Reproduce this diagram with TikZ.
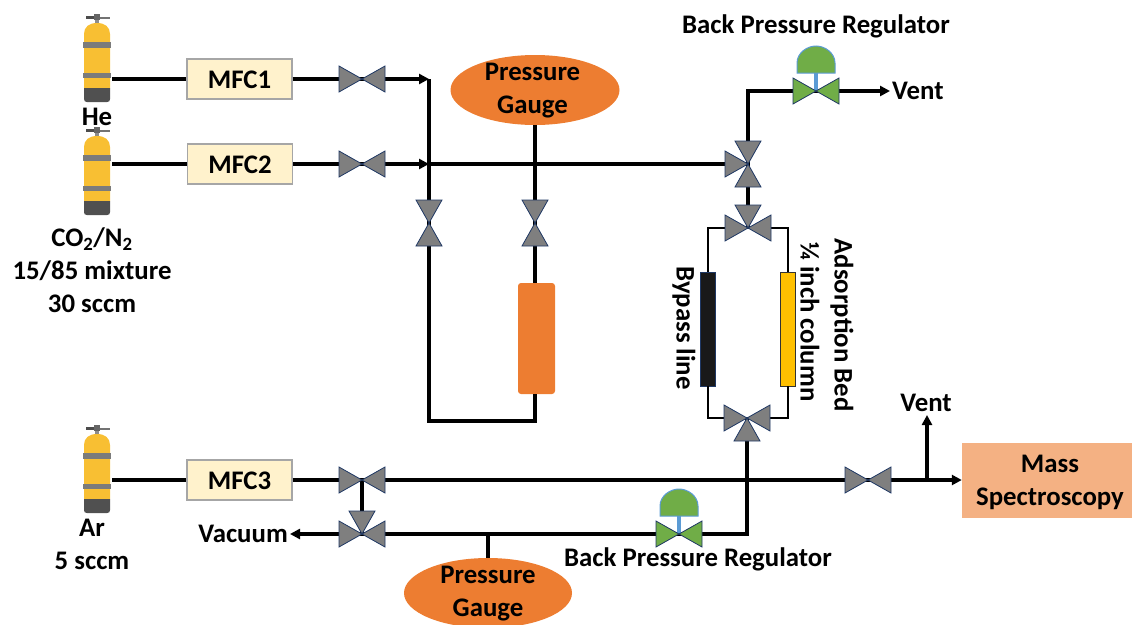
\documentclass[tikz,border=0pt]{standalone}
\usepackage{fontspec}
\setmainfont{Carlito}
\usetikzlibrary{arrows.meta,shapes.geometric}
\definecolor{valvegray}{HTML}{7F7F7F}
\definecolor{valveedge}{HTML}{1F3864}
\definecolor{greenv}{HTML}{70AD47}
\definecolor{bluev}{HTML}{5B9BD5}
\definecolor{orangeg}{HTML}{ED7D31}
\definecolor{cylyellow}{HTML}{F8BF33}
\definecolor{cyldark}{HTML}{505050}
\definecolor{cylband}{HTML}{7B7B7B}
\definecolor{mfcfill}{HTML}{FFF2CC}
\definecolor{massfill}{HTML}{F4B183}
\definecolor{adsfill}{HTML}{FFC000}
\tikzset{
  pipe/.style={line width=3.3pt,draw=black,line join=miter},
  thinpipe/.style={line width=2.8pt,draw=black,line join=miter},
  arrowpipe/.style={pipe,-{Stealth[length=10pt,width=10pt,inset=0pt]}},
  tri/.style={fill=valvegray,draw=valveedge,line width=0.8pt,line join=miter},
  gtri/.style={fill=greenv,draw=valveedge,line width=0.8pt,line join=miter},
  mfc/.style={draw=black!35,line width=1.2pt,fill=mfcfill,minimum width=105pt,minimum height=40pt,inner sep=0pt,text height=19pt,text depth=0pt},
  gauge/.style={ellipse,fill=orangeg,minimum width=169pt,minimum height=70pt,inner sep=0pt},
  lbl/.style={inner sep=0pt,align=center},
  every node/.style={font=\fontsize{26.8}{33}\selectfont\bfseries}
}
% triangle with apex at centre, opening towards the angle
\newcommand{\vtri}[3][tri]{\draw[#1,shift={(#2)},rotate=#3] (0,0) -- (23,-13) -- (23,13) -- cycle;}
\newcommand{\vvalveH}[2][tri]{\vtri[#1]{#2}{0}\vtri[#1]{#2}{180}}
\newcommand{\vvalveV}[2][tri]{\vtri[#1]{#2}{90}\vtri[#1]{#2}{-90}}
\newcommand{\bpr}[3]{% name, x, y
  \draw[bluev,line width=3.5pt] (#2,#3) -- (#2,#3-18);
  \draw[fill=greenv,draw=bluev,line width=1pt] (#2-19,#3-18) -- (#2-19,#3-28) .. controls (#2-19,#3-38) and (#2-9,#3-45) .. (#2,#3-45) .. controls (#2+9,#3-45) and (#2+19,#3-38) .. (#2+19,#3-28) -- (#2+19,#3-18) -- cycle;
  \vvalveH[gtri]{#1}}
\newcommand{\cyl}[2]{% x centre, y offset
  \begin{scope}[shift={(#1,#2)}]
    \fill[black!45] (-2,15) rectangle (2,24);
    \fill[black!70] (-11,16) rectangle (-3,19);
    \fill[black!55] (3,17) rectangle (13,18.5);
    \fill[black!60] (-3,14) rectangle (3,20);
    \fill[cylyellow] (-13,88) -- (-13,34) .. controls (-13,27) and (-8,23) .. (0,23) .. controls (8,23) and (13,27) .. (13,34) -- (13,88) -- cycle;
    \fill[cyldark] (-13,88) -- (13,88) -- (13,99) .. controls (13,101) and (12,102) .. (10,102) -- (-10,102) .. controls (-12,102) and (-13,101) .. (-13,99) -- cycle;
    \fill[cylband] (-14,42) rectangle (14,48);
    \fill[cylband] (-14,73) rectangle (14,78);
  \end{scope}}
\begin{document}
\begin{tikzpicture}[x=1pt,y=-1pt]
\useasboundingbox (0,0) rectangle (1132,624);
% cylinders
\cyl{97}{0}
\cyl{97}{113}
\cyl{97}{411}
% coordinates
\coordinate (heout) at (112,79);
\coordinate (coout) at (112,164);
\coordinate (arout) at (112,480);
\coordinate (v1) at (362,79);
\coordinate (v2) at (362,164);
\coordinate (v3) at (362,480);
\coordinate (v4) at (362,534);
\coordinate (v5) at (429,223);
\coordinate (v6) at (535,223);
\coordinate (t1) at (748,164);
\coordinate (t2) at (748,228);
\coordinate (t3) at (747,418);
\coordinate (b1) at (816,91);
\coordinate (b2) at (679,534);
\coordinate (v7) at (868,480);
\coordinate (j1) at (429,79);
\coordinate (j2) at (429,164);
\coordinate (j4) at (429,421);
\coordinate (j5) at (535,421);
\coordinate (c1) at (748,91);
\coordinate (ventA) at (890,91);
\coordinate (lt) at (708,228);
\coordinate (rt) at (788,228);
\coordinate (lb) at (708,418);
\coordinate (rb) at (788,418);
\coordinate (j6) at (747,534);
\coordinate (j7) at (927,480);
\coordinate (ventB) at (927,415);
\coordinate (vac) at (290,534);
\coordinate (j8) at (488,534);
% boxes
\node[mfc] (mfc1) at (239.5,79) {MFC1};
\node[mfc] (mfc2) at (240,164) {MFC2};
\node[mfc] (mfc3) at (239.5,480) {MFC3};
\node[gauge] (g1) at (535,90) {};
\node[gauge,minimum width=168pt] (g2) at (488,593) {};
\node[fill=orangeg,rounded corners=3pt,minimum width=37pt,minimum height=111pt,inner sep=0pt] (col) at (536.5,338.5) {};
\node[fill=black!90,draw=valveedge,line width=0.8pt,minimum width=15pt,minimum height=114pt,inner sep=0pt] (byp) at (708,329) {};
\node[fill=adsfill,draw=black!80,line width=0.8pt,minimum width=15pt,minimum height=114pt,inner sep=0pt] (ads) at (788,329) {};
\node[fill=massfill,minimum width=170pt,minimum height=75pt,inner sep=0pt] (ms) at (1047,480.5) {};
% connectors
\draw[pipe] (heout) -- (mfc1);
\draw[pipe] (coout) -- (mfc2);
\draw[pipe] (arout) -- (mfc3);
\draw[pipe] (mfc1) -- (v1);
\draw[pipe] (mfc2) -- (v2);
\draw[pipe] (mfc3) -- (v3);
\draw[arrowpipe] (v1) -- (j1);
\draw[pipe] (j1) -- (v5);
\draw[pipe] (v5) -- (j4) -- (j5) -- (j5 |- col.south);
\draw[pipe] (v6 |- col.north) -- (v6);
\draw[pipe] (v6) -- (g1.south);
\draw[arrowpipe] (v2) -- (j2);
\draw[pipe] (j2) -- (t1);
\draw[pipe] (t1) -- (c1) -- (b1);
\draw[arrowpipe] (b1) -- (ventA);
\draw[pipe] (t1) -- (t2);
\draw[thinpipe] (byp.north) -- (lt) -- (t2) -- (rt) -- (ads.north);
\draw[thinpipe] (byp.south) -- (lb) -- (t3) -- (rb) -- (ads.south);
\draw[pipe] (t3) -- (j6) -- (b2);
\draw[pipe] (b2) -- (v4);
\draw[arrowpipe] (v4) -- (vac);
\draw[pipe] (v3) -- (v4);
\draw[pipe] (v3) -- (v7);
\draw[pipe] (v7) -- (j7);
\draw[arrowpipe] (j7) -- (j7 -| ms.west);
\draw[arrowpipe] (j7) -- (ventB);
\draw[pipe] (j8) -- (g2.north);
% valves
\vvalveH{v1}
\vvalveH{v2}
\vvalveH{v3}
\vvalveH{v7}
\vvalveV{v5}
\vvalveV{v6}
\vtri{v4}{90}\vvalveH{v4}
\vtri{t1}{180}\vvalveV{t1}
\vtri{t2}{90}\vvalveH{t2}
\vtri{t3}{-90}\vvalveH{t3}
\bpr{b1}{816}{91}
\bpr{b2}{679}{534}
% labels
\node[lbl] (lg1) at (532.5,91) {Pressure\\[0pt]Gauge};
\node[lbl] (lg2) at (488,594) {Pressure\\[0pt]Gauge};
\node[lbl] (lms) at (1050,482) {Mass\\[0pt]Spectroscopy};
\node[lbl] (lhe) at (97,117) {He};
\node[lbl] (lco) at (92,270) {CO\textsubscript{2}/N\textsubscript{2}\\[0pt]15/85 mixture\\[0pt]30 sccm};
\node[lbl] (lar) at (92,544) {Ar\\[0pt]5 sccm};
\node[lbl] (lb1) at (816,26) {Back Pressure Regulator};
\node[lbl] (lb2) at (698,559) {Back Pressure Regulator};
\node[lbl,anchor=west] (lv1) at (892,91) {Vent};
\node[lbl] (lv2) at (926,403) {Vent};
\node[lbl,anchor=east] (lvac) at (288,534) {Vacuum};
\node[lbl,rotate=-90] (lby) at (684,328) {Bypass line};
\node[lbl,rotate=-90] (lqt) at (810,322) {¼ inch column};
\node[lbl,rotate=-90] (lad) at (842,325) {Adsorption Bed};
\end{tikzpicture}
\end{document}
